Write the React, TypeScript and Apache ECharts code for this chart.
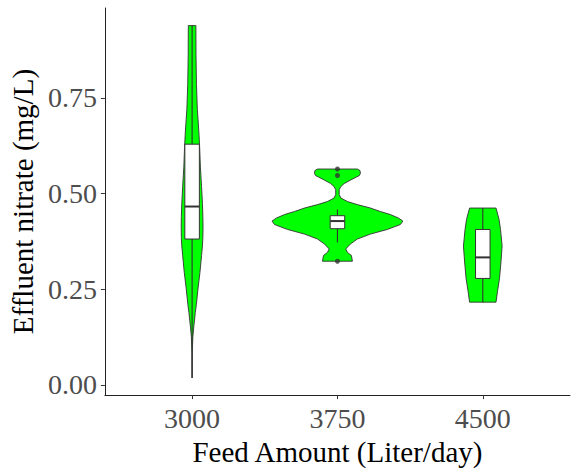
import React, { useEffect, useRef } from "react";
import * as echarts from "echarts";

// Categories and their positions on the (discrete) x scale
const categories = ["3000", "3750", "4500"];
const categoryPositions = [1, 2, 3];

// Violin outlines: [value, half-width in category units]
const violin3000 = [
  [0.939, 0.026],
  [0.86, 0.027],
  [0.785, 0.03],
  [0.72, 0.036],
  [0.687, 0.042],
  [0.651, 0.048],
  [0.62, 0.052],
  [0.569, 0.057],
  [0.518, 0.065],
  [0.474, 0.071],
  [0.44, 0.074],
  [0.415, 0.075],
  [0.385, 0.074],
  [0.363, 0.071],
  [0.338, 0.065],
  [0.294, 0.054],
  [0.253, 0.041],
  [0.209, 0.029],
  [0.189, 0.022],
  [0.153, 0.012],
  [0.125, 0.005],
  [0.08, 0.001],
  [0.018, 0.0],
];

const violin3750 = [
  [0.564, 0.137],
  [0.56, 0.155],
  [0.553, 0.158],
  [0.547, 0.151],
  [0.543, 0.13],
  [0.535, 0.089],
  [0.526, 0.046],
  [0.518, 0.023],
  [0.51, 0.012],
  [0.497, 0.012],
  [0.488, 0.024],
  [0.479, 0.069],
  [0.471, 0.137],
  [0.462, 0.227],
  [0.453, 0.295],
  [0.445, 0.364],
  [0.436, 0.419],
  [0.428, 0.45],
  [0.419, 0.433],
  [0.406, 0.343],
  [0.394, 0.227],
  [0.381, 0.137],
  [0.368, 0.089],
  [0.355, 0.057],
  [0.346, 0.069],
  [0.338, 0.096],
  [0.323, 0.103],
];

const violin4500 = [
  [0.462, 0.091],
  [0.432, 0.112],
  [0.406, 0.122],
  [0.363, 0.133],
  [0.321, 0.125],
  [0.278, 0.115],
  [0.244, 0.101],
  [0.216, 0.091],
];

const violinProfiles = [violin3000, violin3750, violin4500];

// Box statistics: [lower whisker, Q1, median, Q3, upper whisker]
const boxStats = [
  [0.018, 0.381, 0.466, 0.629, 0.939],
  [0.372, 0.408, 0.428, 0.442, 0.458],
  [0.216, 0.278, 0.333, 0.406, 0.462],
];

// Outliers: [category position, value]
const outliers = [
  [2, 0.564],
  [2, 0.547],
  [2, 0.323],
];

const yTicks = [0, 0.25, 0.5, 0.75];

const FONT = "Liberation Serif";

export default function App() {
  const ref = useRef<HTMLDivElement>(null);

  useEffect(() => {
    if (!ref.current) return;
    const chart = echarts.init(ref.current, undefined, { renderer: "svg" });

    const option: any = {
      animation: false,
      backgroundColor: "#ffffff",
      textStyle: { fontFamily: FONT },
      grid: { left: 104, right: 1, top: 8, bottom: 69, containLabel: false },
      xAxis: {
        type: "value",
        min: 0.4,
        max: 3.6,
        name: "Feed Amount (Liter/day)",
        nameLocation: "middle",
        nameGap: 33,
        nameTextStyle: { fontFamily: FONT, fontSize: 29, color: "#000" },
        axisLine: { show: true, onZero: false, lineStyle: { color: "#222", width: 1 } },
        axisTick: {
          show: true,
          customValues: categoryPositions,
          length: 4,
          lineStyle: { color: "#333" },
        },
        axisLabel: {
          customValues: categoryPositions,
          formatter: (v: number) => categories[Math.round(v) - 1] ?? "",
          fontFamily: FONT,
          fontSize: 28,
          color: "#4d4d4d",
          margin: 9,
        },
        splitLine: { show: false },
      },
      yAxis: {
        type: "value",
        min: -0.027,
        max: 0.985,
        name: "Effluent nitrate (mg/L)",
        nameLocation: "middle",
        nameGap: 60,
        nameTextStyle: { fontFamily: FONT, fontSize: 29, color: "#000" },
        axisLine: { show: true, onZero: false, lineStyle: { color: "#222", width: 1 } },
        axisTick: {
          show: true,
          customValues: yTicks,
          length: 4,
          lineStyle: { color: "#333" },
        },
        axisLabel: {
          customValues: yTicks,
          formatter: (v: number) => v.toFixed(2),
          fontFamily: FONT,
          fontSize: 28,
          color: "#4d4d4d",
          margin: 8,
        },
        splitLine: { show: false },
      },
      series: [
        {
          type: "custom",
          name: "violin",
          data: categoryPositions.map((p, i) => [p, violinProfiles[i][0][0]]),
          encode: { x: 0, y: 1 },
          renderItem: (params: any, api: any) => {
            const idx = params.dataIndex;
            const pos = api.value(0);
            const profile = violinProfiles[idx];
            const right = profile.map(([v, hw]) => api.coord([pos + hw, v]));
            const left = profile
              .slice()
              .reverse()
              .map(([v, hw]) => api.coord([pos - hw, v]));
            return {
              type: "polygon",
              shape: { points: [...right, ...left] },
              style: { fill: "#00ff00", stroke: "#333333", lineWidth: 0.9 },
            };
          },
          z: 1,
        },
        {
          type: "custom",
          name: "box",
          data: boxStats.map((s, i) => [categoryPositions[i], ...s]),
          encode: { x: 0, y: [1, 2, 3, 4, 5] },
          renderItem: (params: any, api: any) => {
            const pos = api.value(0);
            const lo = api.value(1);
            const q1 = api.value(2);
            const med = api.value(3);
            const q3 = api.value(4);
            const hi = api.value(5);
            const halfW = 0.05;
            const pLo = api.coord([pos, lo]);
            const pHi = api.coord([pos, hi]);
            const pQ1L = api.coord([pos - halfW, q1]);
            const pQ3R = api.coord([pos + halfW, q3]);
            const pMedL = api.coord([pos - halfW, med]);
            const pMedR = api.coord([pos + halfW, med]);
            return {
              type: "group",
              children: [
                {
                  type: "line",
                  shape: { x1: pLo[0], y1: pLo[1], x2: pHi[0], y2: pHi[1] },
                  style: { stroke: "#333333", lineWidth: 1.1 },
                },
                {
                  type: "rect",
                  shape: {
                    x: pQ1L[0],
                    y: pQ3R[1],
                    width: pQ3R[0] - pQ1L[0],
                    height: pQ1L[1] - pQ3R[1],
                  },
                  style: { fill: "#ffffff", stroke: "#333333", lineWidth: 1 },
                },
                {
                  type: "line",
                  shape: { x1: pMedL[0], y1: pMedL[1], x2: pMedR[0], y2: pMedR[1] },
                  style: { stroke: "#333333", lineWidth: 2 },
                },
              ],
            };
          },
          z: 2,
        },
        {
          type: "scatter",
          name: "outliers",
          data: outliers,
          symbol: "circle",
          symbolSize: 5,
          itemStyle: { color: "#333333" },
          z: 3,
        },
      ],
    };

    chart.setOption(option);
    return () => chart.dispose();
  }, []);

  return (
    <div
      ref={ref}
      style={{ position: "fixed", left: 0, top: 0, width: 571, height: 471 }}
    />
  );
}
